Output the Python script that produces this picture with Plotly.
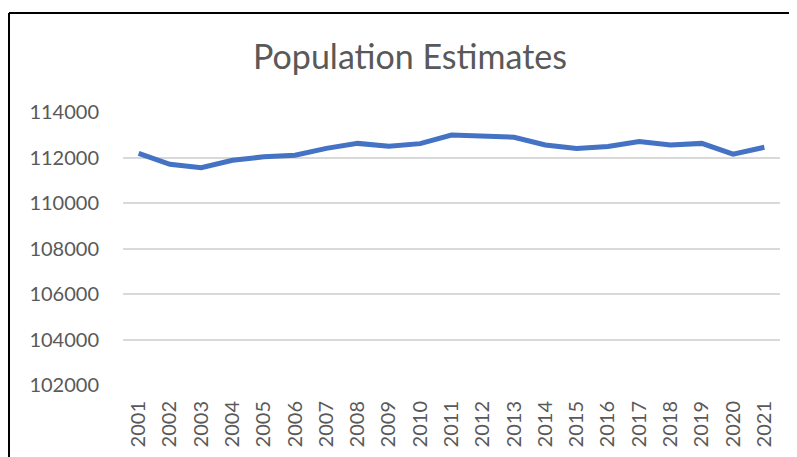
import plotly.graph_objects as go

years = [str(y) for y in range(2001, 2022)]
population = [112180, 111700, 111550, 111880, 112030, 112100, 112400, 112620, 112500, 112610,
              112990, 112945, 112890, 112550, 112400, 112480, 112700, 112550, 112620, 112150, 112450]
y_ticks = [102000, 104000, 106000, 108000, 110000, 112000, 114000]

OFF = 8  # default page body margin
W, H = 797 - OFF, 457 - OFF
L, R, T, B = 123 - OFF, 17, 112 - OFF, 72
pw, ph = W - L - R, H - T - B

def px(x):
    return (x - OFF - L) / pw

def py(y):
    return (H - B - (y - OFF)) / ph

fig = go.Figure(go.Scatter(
    x=years, y=population, mode="lines",
    line=dict(color="#4472C4", width=5), hoverinfo="x+y",
))

fig.update_layout(
    width=W, height=H,
    margin=dict(l=L, r=R, t=T, b=B, autoexpand=False),
    paper_bgcolor="white", plot_bgcolor="white",
    font=dict(family="Lato, Carlito, sans-serif", color="#595959", size=20),
    showlegend=False,
    title=dict(text="Population Estimates", x=px(410), xref="paper", xanchor="center",
               y=1 - (57 - OFF) / H, yanchor="middle", font=dict(size=34, color="#595959")),
    xaxis=dict(type="category", range=[-0.5, 20.5], showgrid=False, zeroline=False,
               automargin=False,
               showline=False, tickangle=-90, ticks="outside", ticklen=7,
               tickcolor="rgba(0,0,0,0)", tickfont=dict(size=20)),
    yaxis=dict(range=[102000, 114000], tickvals=y_ticks, ticktext=[str(v) for v in y_ticks],
               automargin=False,
               showgrid=True, gridcolor="#D9D9D9", gridwidth=1.5, zeroline=False,
               showline=False, ticks="outside", ticklen=19, tickcolor="rgba(0,0,0,0)",
               tickfont=dict(size=20)),
    shapes=[
        dict(type="line", xref="paper", yref="paper", x0=px(9), x1=px(9), y0=py(13), y1=py(470),
             line=dict(color="#000000", width=2)),
        dict(type="line", xref="paper", yref="paper", x0=px(9), x1=px(800), y0=py(13), y1=py(13),
             line=dict(color="#000000", width=2)),
    ],
)

fig.write_html("out.html")
